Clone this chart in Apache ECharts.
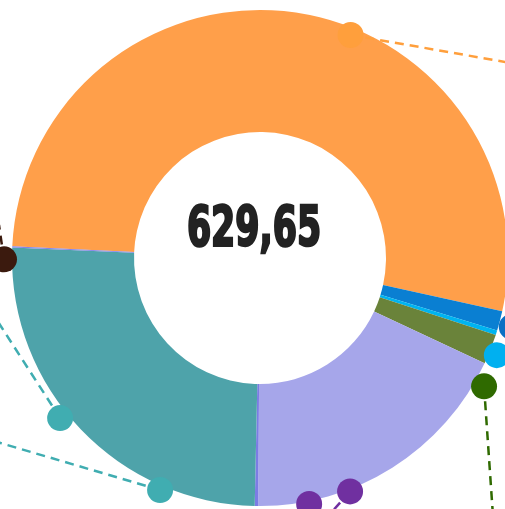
<!DOCTYPE html>
<html>
<head>
<meta charset="utf-8">
<script src="https://cdn.jsdelivr.net/npm/echarts@6/dist/echarts.min.js"></script>
<style>
  html, body { margin: 0; padding: 0; background: #ffffff; }
  #chart { width: 505px; height: 509px; }
</style>
</head>
<body>
<div id="chart"></div>
<script>
// Slice values of the ring (sum is shown in the middle)
const categories = ['S1', 'S2', 'S3', 'S4', 'S5', 'S6', 'S7', 'S8'];
const values = [331.8, 8.05, 1.9, 12.25, 114.25, 1.4, 159.5, 0.5];

// Styling
const sliceColors = ['#ff9f4a', '#0a7fd2', '#00b4f0', '#6a833a', '#a6a6ea', '#7c7ce4', '#4ea3aa', '#8484e6'];
const CENTER = [260, 258];
const OUTER_R = 248;
const INNER_R = 126;
const OVERLAY_R = 420;   // polar overlay reaches past the canvas so leaders can run off the edge

// Callout pins on the rim and their dashed leaders: [radius, angle clockwise from 12 o'clock]
const callouts = [
  { color: '#ff9f3c', pin: [240.7, 22.1],  end: [400.7, 63.95] },
  { color: '#0a70c4', pin: [261.0, 105.3], end: null },
  { color: '#00b0f0', pin: [256.0, 112.3], end: null },
  { color: '#2f6a00', pin: [258.2, 119.8], end: [358.8, 139.3] },
  { color: '#7030a0', pin: [250.2, 158.9], end: [273.7, 167.3] },
  { color: '#7030a0', pin: [250.8, 168.7], end: null },
  { color: '#40adb1', pin: [252.6, 203.3], end: [346.3, 240.0] },
  { color: '#40adb1', pin: [256.1, 231.3], end: [282.3, 262.7] },
  { color: '#3b1a0e', pin: [256.0, 269.7], end: [263.1, 277.2] }
];

const total = values.reduce((a, b) => a + b, 0);
const totalText = total.toFixed(2).replace('.', ',');

const leaderSeries = callouts.filter(c => c.end).map(c => ({
  type: 'line',
  coordinateSystem: 'polar',
  polarIndex: 0,
  clip: false,
  silent: true,
  showSymbol: false,
  symbol: 'none',
  z: 3,
  lineStyle: { color: c.color, width: 2.5, type: [9, 6], opacity: 1 },
  data: [c.pin, c.end]
}));

const pinSeries = {
  type: 'scatter',
  coordinateSystem: 'polar',
  polarIndex: 0,
  clip: false,
  silent: true,
  symbol: 'circle',
  symbolSize: 26,
  z: 4,
  itemStyle: { opacity: 1 },
  data: callouts.map(c => ({ value: c.pin, itemStyle: { color: c.color, opacity: 1 } }))
};

const chart = echarts.init(document.getElementById('chart'), null, { renderer: 'canvas' });
chart.setOption({
  animation: false,
  backgroundColor: '#ffffff',
  polar: { center: CENTER, radius: OVERLAY_R },
  angleAxis: {
    type: 'value', min: 0, max: 360, startAngle: 90, clockwise: true,
    axisLine: { show: false }, axisTick: { show: false }, axisLabel: { show: false }, splitLine: { show: false }
  },
  radiusAxis: {
    type: 'value', min: 0, max: OVERLAY_R,
    axisLine: { show: false }, axisTick: { show: false }, axisLabel: { show: false }, splitLine: { show: false }
  },
  series: [
    {
      type: 'pie',
      center: CENTER,
      radius: [INNER_R, OUTER_R],
      startAngle: 177.3,
      clockwise: true,
      avoidLabelOverlap: false,
      silent: true,
      z: 2,
      label: { show: false },
      labelLine: { show: false },
      itemStyle: { borderWidth: 0 },
      data: categories.map((name, i) => ({
        name: name,
        value: values[i],
        itemStyle: { color: sliceColors[i] }
      }))
    },
    ...leaderSeries,
    pinSeries
  ],
  graphic: [{
    type: 'text',
    x: 254,
    y: 230,
    scaleX: 0.69,
    z: 10,
    style: {
      text: totalText,
      font: 'bold 56px "Liberation Sans Narrow", "DejaVu Sans Condensed", "Liberation Sans", sans-serif',
      fill: '#222222',
      stroke: '#222222',
      lineWidth: 2.5,
      align: 'center',
      verticalAlign: 'middle'
    }
  }]
});
</script>
</body>
</html>
